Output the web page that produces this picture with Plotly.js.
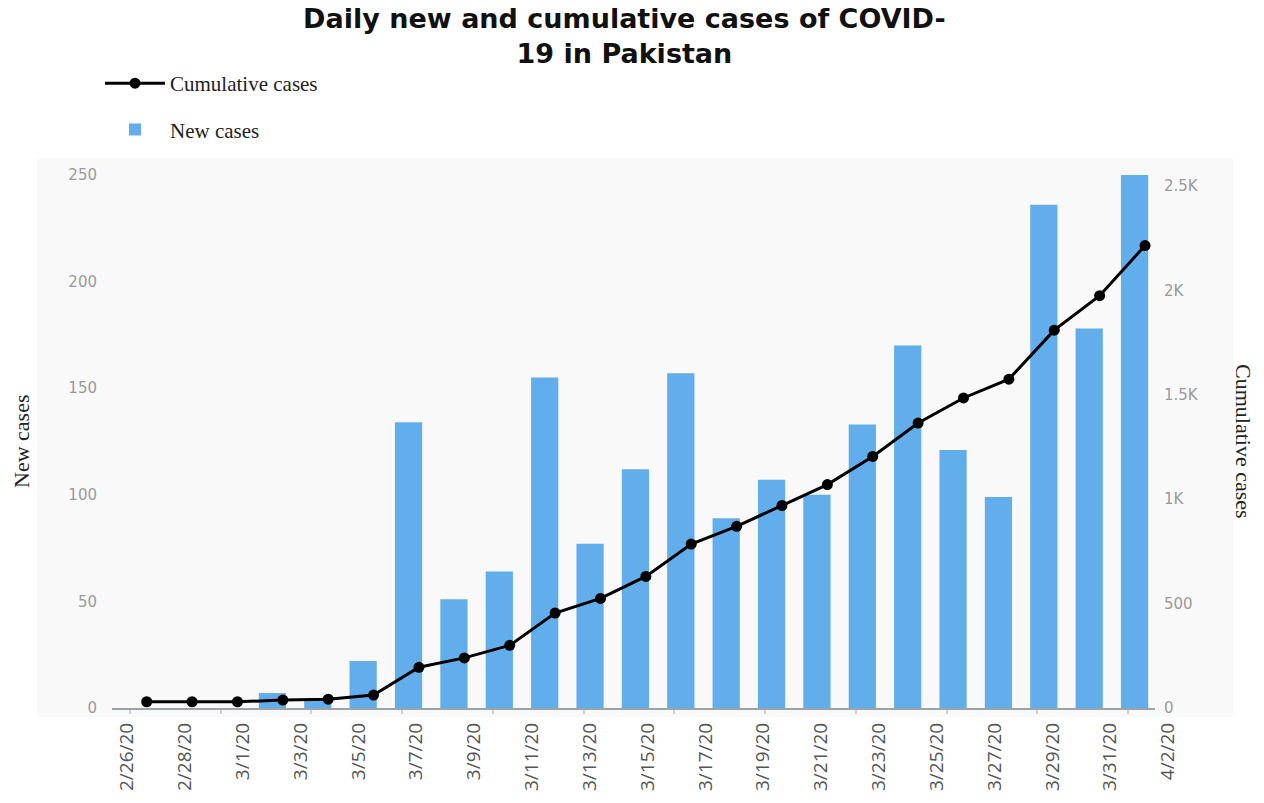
<!DOCTYPE html>
<html>
<head>
<meta charset="utf-8">
<script src="https://cdn.plot.ly/plotly-3.0.1.min.js"></script>
<style>
  html, body { margin: 0; padding: 0; background: #ffffff; }
  #chart { width: 1264px; height: 803px; }
</style>
</head>
<body>
<div id="chart"></div>
<script>
// ---- data ----
const newCases = [0, 0, 0, 7, 4, 22, 134, 51, 64, 155, 77, 112, 157, 89, 107, 100, 133, 170, 121, 99, 236, 178, 250];
const cumulativeCases = [30, 30, 30, 38, 42, 62, 195, 240, 300, 455, 525, 630, 785, 870, 970, 1070, 1205, 1365, 1485, 1575, 1810, 1975, 2215];
const dateTickLabels = ['2/26/20', '2/28/20', '3/1/20', '3/3/20', '3/5/20', '3/7/20', '3/9/20', '3/11/20', '3/13/20', '3/15/20', '3/17/20', '3/19/20', '3/21/20', '3/23/20', '3/25/20', '3/27/20', '3/29/20', '3/31/20', '4/2/20'];
const leftTickValues = [0, 50, 100, 150, 200, 250];
const rightTickValues = [0, 500, 1000, 1500, 2000, 2500];
const rightTickLabels = ['0', '500', '1K', '1.5K', '2K', '2.5K'];

// ---- derived helpers ----
const dayIndex = cumulativeCases.map((_, i) => i);
const dateTickValues = dateTickLabels.map(s => {
  const [m, d, y] = s.split('/');
  return '20' + y + '-' + m.padStart(2, '0') + '-' + d.padStart(2, '0');
});

const tickFont = { family: 'DejaVu Sans', size: 15, color: '#9a9a9a' };
const serif = 'Liberation Serif, Times New Roman, serif';

const traces = [
  {
    type: 'bar',
    name: 'New cases',
    legendgroup: 'new',
    legendrank: 2,
    x: dayIndex,
    y: newCases,
    width: 0.6,
    offset: -0.53,
    marker: { color: '#62adeb' },
    xaxis: 'x',
    yaxis: 'y',
    hoverinfo: 'y'
  },
  {
    type: 'scatter',
    mode: 'lines+markers',
    name: 'Cumulative cases',
    legendgroup: 'cum',
    legendrank: 1,
    x: dayIndex,
    y: cumulativeCases,
    line: { color: '#000000', width: 3 },
    marker: { color: '#000000', size: 11 },
    xaxis: 'x',
    yaxis: 'y2',
    hoverinfo: 'y'
  },
  {
    // carries the date axis that holds the x tick labels
    type: 'scatter',
    mode: 'markers',
    x: dateTickValues,
    y: dateTickValues.map(() => null),
    xaxis: 'x2',
    yaxis: 'y',
    showlegend: false,
    hoverinfo: 'skip',
    marker: { opacity: 0 }
  }
];

const plotW = 1264 - 112 - 80;
const plotH = 803 - 170 - 95;
const px = X => (X - 112) / plotW;
const py = Y => (708 - Y) / plotH;

const layout = {
  width: 1264,
  height: 803,
  margin: { l: 112, r: 80, t: 170, b: 95, pad: 0 },
  paper_bgcolor: '#ffffff',
  plot_bgcolor: 'rgba(0,0,0,0)',
  showlegend: true,
  bargap: 0.4,
  title: {
    text: '<b>Daily new and cumulative cases of COVID-<br>19 in Pakistan</b>',
    font: { family: 'DejaVu Sans', size: 27, color: '#111111' },
    x: 0.494,
    xanchor: 'center',
    xref: 'container',
    y: 1 - 28 / 803,
    yanchor: 'top',
    yref: 'container'
  },
  legend: {
    x: px(100),
    xanchor: 'left',
    y: py(63),
    yanchor: 'top',
    orientation: 'v',
    traceorder: 'grouped',
    tracegroupgap: 16,
    itemwidth: 60,
    bgcolor: 'rgba(0,0,0,0)',
    font: { family: serif, size: 21, color: '#222222' }
  },
  xaxis: {
    type: 'linear',
    domain: [0, (1155 - 112) / plotW],
    range: [-0.765, 22.22],
    showgrid: false,
    zeroline: false,
    showline: true,
    linecolor: '#9aa3a8',
    linewidth: 2,
    ticks: 'outside',
    tick0: -0.37,
    dtick: 2,
    ticklen: 4,
    tickwidth: 2,
    tickcolor: '#d0d0d0',
    showticklabels: false,
    fixedrange: true
  },
  xaxis2: {
    type: 'date',
    domain: [0, 1],
    anchor: 'y',
    side: 'bottom',
    range: ['2020-02-25 11:30', '2020-04-02 13:15'],
    tickmode: 'array',
    tickvals: dateTickValues,
    ticktext: dateTickLabels,
    tickangle: -90,
    ticks: '',
    ticklabelstandoff: 10,
    showgrid: false,
    zeroline: false,
    showline: false,
    tickfont: { family: 'Open Sans', size: 19, color: '#555555' },
    fixedrange: true
  },
  yaxis: {
    range: [0, 252.3],
    tickmode: 'array',
    tickvals: leftTickValues,
    ticks: '',
    ticklabelstandoff: 14,
    showgrid: false,
    zeroline: false,
    showline: false,
    tickfont: tickFont,
    fixedrange: true
  },
  yaxis2: {
    overlaying: 'y',
    side: 'right',
    anchor: 'x',
    range: [0, 2577],
    tickmode: 'array',
    tickvals: rightTickValues,
    ticktext: rightTickLabels,
    ticks: '',
    ticklabelstandoff: 8,
    showgrid: false,
    zeroline: false,
    showline: false,
    tickfont: tickFont,
    fixedrange: true
  },
  shapes: [
    {
      type: 'rect',
      xref: 'paper', yref: 'paper',
      x0: px(37), x1: px(1233), y0: py(717), y1: py(158),
      fillcolor: '#f9f9f9',
      line: { width: 0 },
      layer: 'below'
    }
  ],
  annotations: [
    {
      text: 'New cases',
      xref: 'paper', yref: 'paper',
      x: px(21), y: py(442),
      xanchor: 'center', yanchor: 'middle',
      textangle: -90,
      showarrow: false,
      font: { family: serif, size: 22, color: '#222222' }
    },
    {
      text: 'Cumulative cases',
      xref: 'paper', yref: 'paper',
      x: px(1244), y: py(441),
      xanchor: 'center', yanchor: 'middle',
      textangle: 90,
      showarrow: false,
      font: { family: serif, size: 22, color: '#222222' }
    }
  ]
};

Plotly.newPlot('chart', traces, layout, { displayModeBar: false, responsive: false });
</script>
</body>
</html>
